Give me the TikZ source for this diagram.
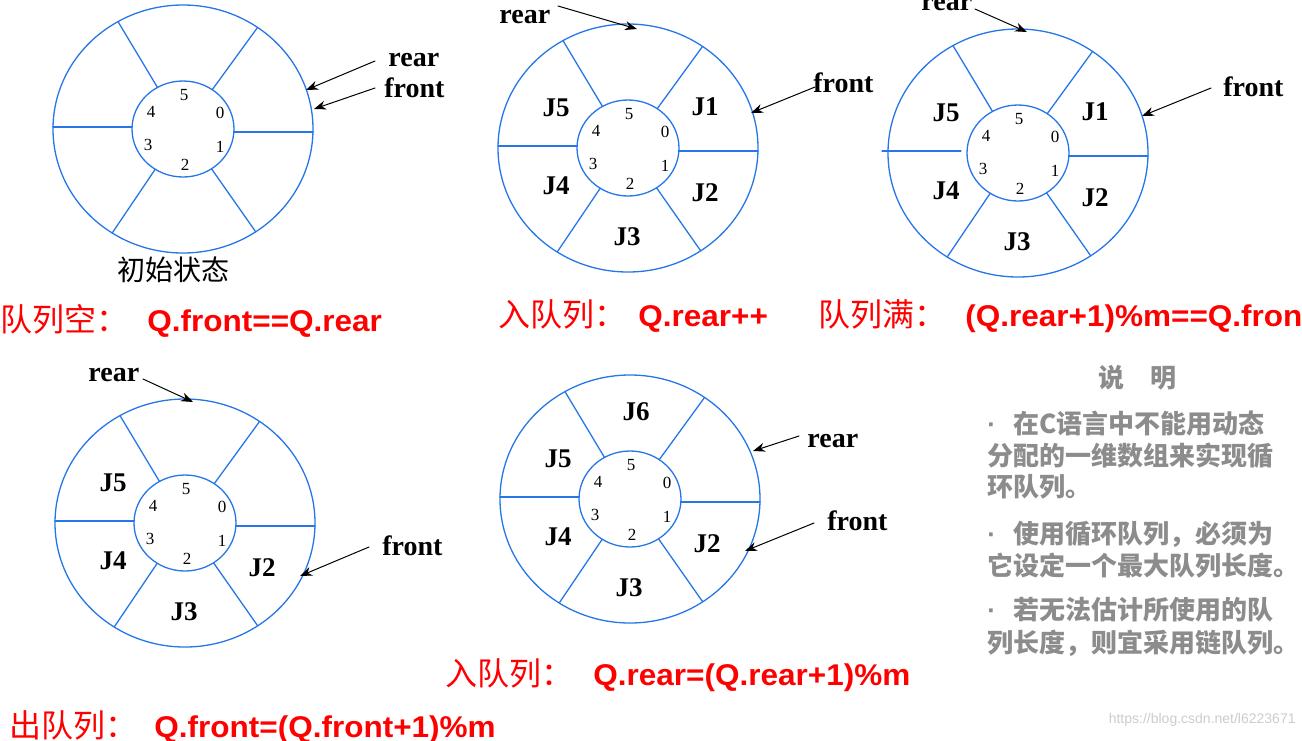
\documentclass[tikz,border=0pt]{standalone}
\usepackage{fontspec}
\setmainfont{Liberation Serif}
\newfontfamily\cjk{Noto Sans CJK SC}
\newfontfamily\eqfont[FakeStretch=1.05]{Liberation Sans}
\newfontfamily\wmfont{Liberation Sans}
\usetikzlibrary{arrows.meta}
\definecolor{ringblue}{RGB}{38,118,232}
\definecolor{notegray}{RGB}{140,140,140}
\newcommand\notedot{\makebox[1em][l]{\wmfont\bfseries\textperiodcentered}}
\tikzset{
  ring/.style={ringblue, line width=0.65pt},
  idx/.style={font=\fontsize{8.5}{10}\selectfont, inner sep=0pt},
  job/.style={font=\bfseries\fontsize{13.5}{16}\selectfont, inner sep=0pt},
  ptr/.style={font=\bfseries\fontsize{14}{16}\selectfont, inner sep=0pt, anchor=base west},
  ptrarrow/.style={-{Stealth[length=6pt,width=4.5pt]}, line width=0.5pt},
  cnlabel/.style={red, font=\cjk\fontsize{16}{18}\selectfont, inner sep=0pt, anchor=base west},
  eqlabel/.style={red, font=\eqfont\bfseries\fontsize{15}{18}\selectfont, inner sep=0pt, anchor=base west},
  note/.style={notegray, font=\cjk\bfseries\fontsize{13}{16}\selectfont, inner sep=0pt, anchor=west},
}
\begin{document}
\begin{tikzpicture}[x=0.5pt, y=-0.5pt, line join=round, line cap=round]
  \useasboundingbox (0,0) rectangle (1302,740);
  \clip (0,0) rectangle (1302,740);
  % five rings: number / centre / left spoke (outer, inner)
  \foreach \n/\cx/\cy/\lo/\li in {1/183/129/130/51, 2/628/148/130/51, 3/1018/153/136/57, 4/185/523/130/51, 5/630/499/130/51}{
    \draw[ring] (\cx,\cy) ellipse [x radius=65pt, y radius=62pt];
    \draw[ring] (\cx,\cy) ellipse [x radius=25.5pt, y radius=24pt];
    \draw[ring] (\cx-\lo,\cy-2) -- (\cx-\li,\cy-2);
    \draw[ring] (\cx+51,\cy+3) -- (\cx+130,\cy+3);
    \foreach \a in {55,120,237,304}
      \draw[ring] ({\cx+51*cos(\a)},{\cy-48*sin(\a)}) -- ({\cx+130*cos(\a)},{\cy-124*sin(\a)});
    \foreach \d/\dx/\dy in {0/37/-16, 1/37/18, 2/2/36, 3/-35/16, 4/-32/-17, 5/1/-34}
      \node[idx] (r\n-\d) at (\cx+\dx,\cy+\dy) {\d};
  }
  % jobs in the slots
  \foreach \j/\x/\y in {1/705/107, 2/705/193, 3/627/237, 4/556/186, 5/556/108}
    \node[job] (r2-j\j) at (\x,\y) {J\j};
  \foreach \j/\x/\y in {1/1095/112, 2/1095/198, 3/1017/242, 4/946/191, 5/946/113}
    \node[job] (r3-j\j) at (\x,\y) {J\j};
  \foreach \j/\x/\y in {2/262/568, 3/184/612, 4/113/561, 5/113/483}
    \node[job] (r4-j\j) at (\x,\y) {J\j};
  \foreach \j/\x/\y in {2/707/544, 3/629/588, 4/558/537, 5/558/459, 6/636/412}
    \node[job] (r5-j\j) at (\x,\y) {J\j};
  % rear / front pointers
  \foreach \n/\p/\lx/\ly/\tx/\ty/\hx/\hy in {
      1/rear/388/66/375/61/306/90, 1/front/384/97/375/88/314/109,
      2/rear/499/23/558/6/637/29, 2/front/813/92/815/87/751/113,
      3/rear/921/10/975/9/1027/32, 3/front/1223/96/1211/88/1142/116,
      4/rear/88/381/143/379/193/402, 4/front/382/555/369/547/300/576,
      5/rear/807/447/799/436/753/451, 5/front/827/530/814/523/745/551}{
    \node[ptr] (r\n-\p) at (\lx,\ly) {\p};
    \coordinate (r\n-\p-tail) at (\tx,\ty);
    \coordinate (r\n-\p-head) at (\hx,\hy);
    \draw[ptrarrow] (r\n-\p-tail) -- (r\n-\p-head);
  }
  \node[font=\cjk\fontsize{14}{16}\selectfont, inner sep=0pt, anchor=base west] (r1-cap) at (117,280) {初始状态};
  % conditions
  \node[cnlabel] (empty-cn) at (0,331) {队列空：};
  \node[eqlabel] (empty-eq) at (147,331) {Q.front==Q.rear};
  \node[cnlabel] (enq-cn) at (498,326) {入队列：};
  \node[eqlabel] (enq-eq) at (638,326) {Q.rear++};
  \node[cnlabel] (full-cn) at (818,326) {队列满：};
  \node[eqlabel] (full-eq) at (965,326) {(Q.rear+1)\%m==Q.front};
  \node[cnlabel] (enq2-cn) at (445,685) {入队列：};
  \node[eqlabel] (enq2-eq) at (593,685) {Q.rear=(Q.rear+1)\%m};
  \node[cnlabel] (deq-cn) at (9,737) {出队列：};
  \node[eqlabel] (deq-eq) at (154,737) {Q.front=(Q.front+1)\%m};
  % notes
  \node[note, anchor=center] (note-title) at (1137,378) {说　明};
  \foreach \k/\y/\t in {1/424/{\notedot 在C语言中不能用动态},
      2/456/{分配的一维数组来实现循}, 3/487/{环队列。},
      4/534/{\notedot 使用循环队列，必须为},
      5/566/{它设定一个最大队列长度。},
      6/610/{\notedot 若无法估计所使用的队},
      7/643/{列长度，则宜采用链队列。}}
    \node[note] (note-\k) at (987,\y) {\t};
  \node[font=\wmfont\fontsize{7}{8}\selectfont, gray!40, inner sep=0pt, anchor=east] (wm) at (1296,720) {https://blog.csdn.net/l6223671};
\end{tikzpicture}
\end{document}
